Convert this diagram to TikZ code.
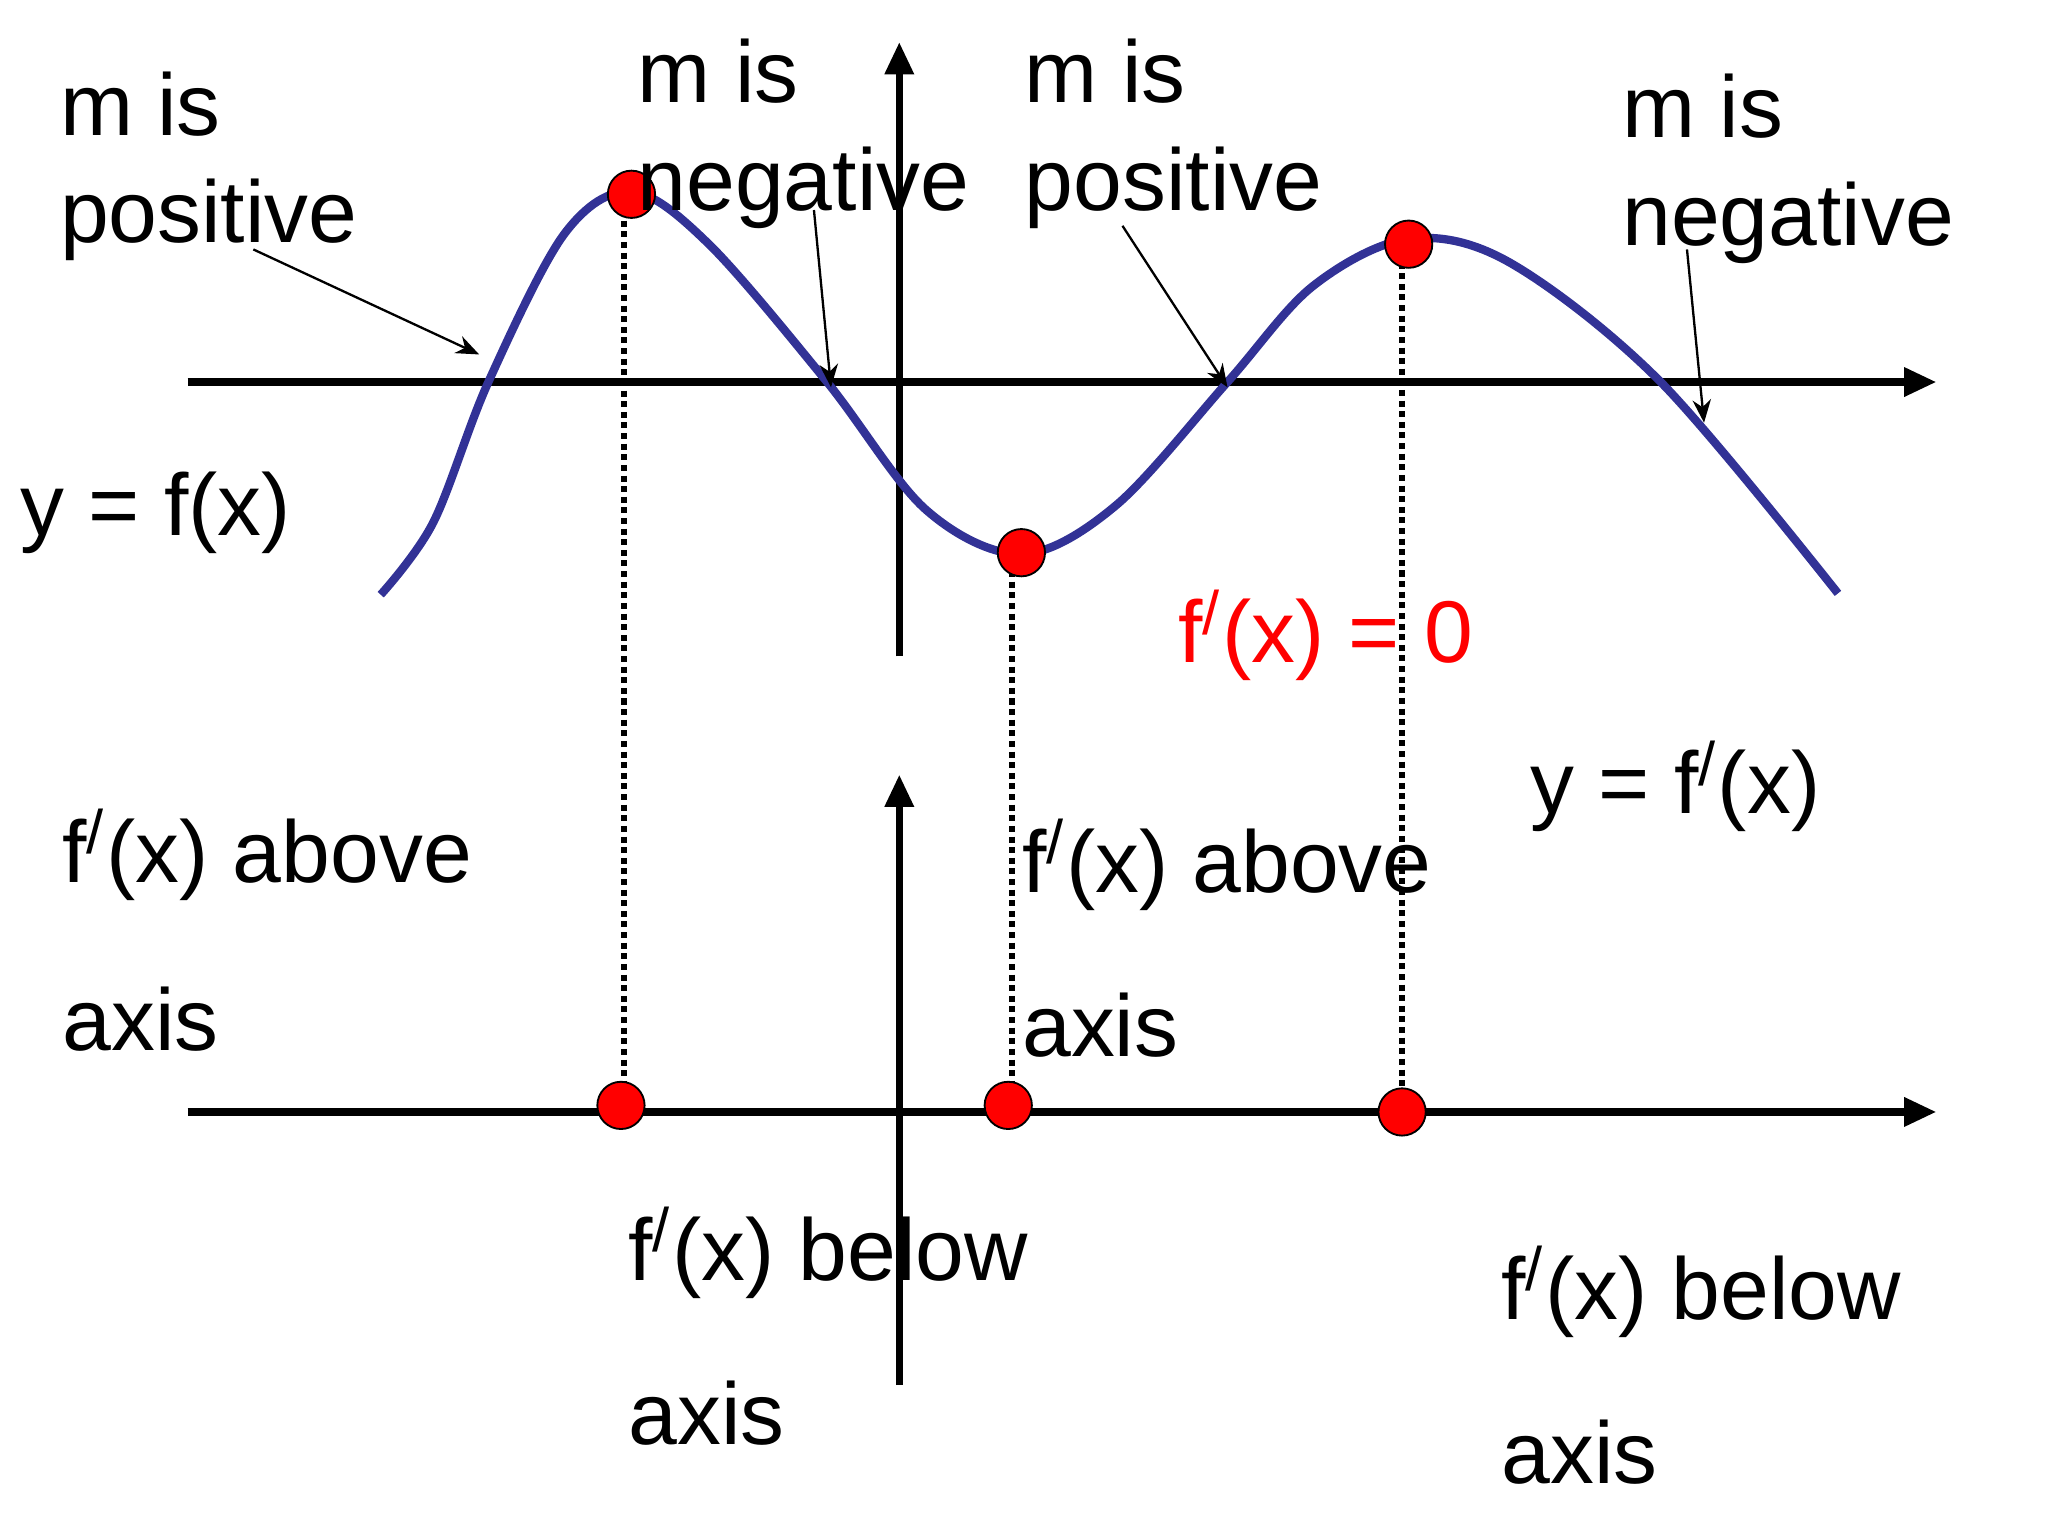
\documentclass[tikz,border=0pt]{standalone}
\usepackage{fontspec}
\setmainfont{Liberation Sans}
\usetikzlibrary{arrows.meta}
\begin{document}
\begin{tikzpicture}[x=0.01cm,y=-0.01cm,
  lbl/.style={anchor=base west,inner sep=0pt,font=\fontsize{19}{22}\selectfont},
  axisline/.style={line width=1.6pt,-{Triangle[length=7pt,width=6pt]}},
  dot/.style={circle,fill=red,draw=black,line width=0.4pt,minimum size=0.36cm,inner sep=0pt},
  drop/.style={densely dotted,line width=1.3pt},
  pointer/.style={line width=0.5pt,-{Stealth[length=5pt,width=4pt]}}]
\useasboundingbox (0,0) rectangle (1560,1170);
% axes
\coordinate (t0) at (143,291); \coordinate (t1) at (1475,291);
\coordinate (v0) at (685,500); \coordinate (v1) at (685,32);
\coordinate (b0) at (143,847); \coordinate (b1) at (1475,847);
\coordinate (w0) at (685,1055); \coordinate (w1) at (685,590);
\draw[axisline] (t0) -- (t1);
\draw[axisline] (v0) -- (v1);
\draw[axisline] (b0) -- (b1);
\draw[axisline] (w0) -- (w1);
% curve
\draw[line width=1.8pt,color={rgb,255:red,50;green,50;blue,150}] plot[smooth,tension=0.55] coordinates
 {(290,453) (330,398) (372,291) (430,178) (481,146) (540,186) (630,291) (705,388) (778,422) (850,385) (935,291) (1000,218) (1073,182) (1150,200) (1265,291) (1400,452)};
% dotted drops
\coordinate (d1a) at (475,160); \coordinate (d1b) at (475,830);
\coordinate (d2a) at (771,435); \coordinate (d2b) at (771,830);
\coordinate (d3a) at (1068,200); \coordinate (d3b) at (1068,835);
\draw[drop] (d1a) -- (d1b);
\draw[drop] (d2a) -- (d2b);
\draw[drop] (d3a) -- (d3b);
% dots
\node[dot] (p1) at (481,148) {};
\node[dot] (p2) at (778,421) {};
\node[dot] (p3) at (1073,186) {};
\node[dot] (q1) at (473,842) {};
\node[dot] (q2) at (768,842) {};
\node[dot] (q3) at (1068,847) {};
% labels
\node[lbl] (a1) at (45,103) {m is};
\node[lbl] (a2) at (45,185) {positive};
\node[lbl] (b1l) at (485,78) {m is};
\node[lbl] (b2) at (485,160) {negative};
\node[lbl] (c1) at (780,78) {m is};
\node[lbl] (c2) at (780,160) {positive};
\node[lbl] (e1) at (1235,105) {m is};
\node[lbl] (e2) at (1235,187) {negative};
\node[lbl] (yf) at (15,408) {y = f(x)};
\node[lbl,text=red] (f0) at (897,505) {f\textsuperscript{/}(x) = 0};
\node[lbl] (yfp) at (1165,620) {y = f\textsuperscript{/}(x)};
\node[lbl] (g1) at (47,672) {f\textsuperscript{/}(x) above};
\node[lbl] (g2) at (47,800) {axis};
\node[lbl] (h1) at (778,680) {f\textsuperscript{/}(x) above};
\node[lbl] (h2) at (778,805) {axis};
\node[lbl] (i1) at (478,975) {f\textsuperscript{/}(x) below};
\node[lbl] (i2) at (478,1100) {axis};
\node[lbl] (j1) at (1143,1005) {f\textsuperscript{/}(x) below};
\node[lbl] (j2) at (1143,1130) {axis};
% pointers
\coordinate (k1a) at (193,190); \coordinate (k1b) at (365,270);
\coordinate (k2a) at (620,160); \coordinate (k2b) at (633,295);
\coordinate (k3a) at (855,172); \coordinate (k3b) at (935,295);
\coordinate (k4a) at (1285,190); \coordinate (k4b) at (1298,322);
\draw[pointer] (k1a) -- (k1b);
\draw[pointer] (k2a) -- (k2b);
\draw[pointer] (k3a) -- (k3b);
\draw[pointer] (k4a) -- (k4b);
\end{tikzpicture}
\end{document}
